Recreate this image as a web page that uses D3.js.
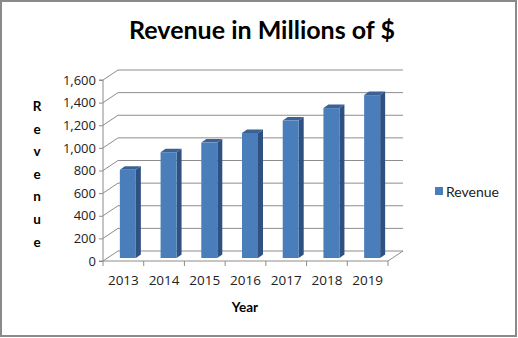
<!DOCTYPE html>
<html>
<head>
<meta charset="utf-8">
<script src="https://cdn.jsdelivr.net/npm/d3@7"></script>
<style>
  body { margin: 0; background: #fff; }
  svg { display: block; }
</style>
</head>
<body>
<script>
'use strict';

const years = ["2013", "2014", "2015", "2016", "2017", "2018", "2019"];
const revenue = [780, 935, 1020, 1105, 1215, 1325, 1440];
const yTicks = [0, 200, 400, 600, 800, 1000, 1200, 1400, 1600];
const seriesName = "Revenue";

const W = 518, H = 338;
const front = { left: 103, right: 388, top: 80, bottom: 261 };
const depth = { dx: 15, dy: -10 };
const barDepth = 0.3;   // where the bars sit between front and back wall

const svg = d3.select("body").append("svg")
    .attr("width", W)
    .attr("height", H)
    .style("font-family", "Lato, 'Open Sans', sans-serif");

// outer border
svg.append("rect")
    .attr("x", 1).attr("y", 1)
    .attr("width", W - 3).attr("height", H - 3)
    .attr("fill", "#fff")
    .attr("stroke", "#8a8a8a")
    .attr("stroke-width", 2);

const x = d3.scaleBand()
    .domain(years)
    .range([front.left, front.right]);

const y = d3.scaleLinear()
    .domain([0, 1600])
    .range([front.bottom, front.top]);

const grid = "#8c8c8c";

// back wall gridlines + left wall diagonals
yTicks.forEach(function(t) {
    const yy = y(t);
    svg.append("line")
        .attr("x1", front.left + depth.dx).attr("y1", yy + depth.dy)
        .attr("x2", front.right + depth.dx).attr("y2", yy + depth.dy)
        .attr("stroke", grid);
    svg.append("line")
        .attr("x1", front.left).attr("y1", yy)
        .attr("x2", front.left + depth.dx).attr("y2", yy + depth.dy)
        .attr("stroke", grid);
});

// floor
svg.append("path")
    .attr("d", "M" + front.left + "," + y(0) +
               "L" + front.right + "," + y(0) +
               "L" + (front.right + depth.dx) + "," + (y(0) + depth.dy))
    .attr("fill", "none")
    .attr("stroke", grid);

// y axis on the front plane
const yAxis = d3.axisLeft(y)
    .tickValues(yTicks)
    .tickSize(4)
    .tickPadding(3)
    .tickFormat(d3.format(","));

const gy = svg.append("g")
    .attr("transform", "translate(" + front.left + ",0)")
    .call(yAxis);
gy.select(".domain").attr("stroke", grid).attr("d", "M-4," + y(1600) + "H0V" + y(0) + "H-4");
gy.selectAll(".tick line").attr("stroke", grid);
gy.selectAll(".tick text")
    .attr("fill", "#222")
    .style("font-family", "'Open Sans', sans-serif")
    .style("font-size", "13px");

// x axis
const xAxis = d3.axisBottom(x)
    .tickSize(0)
    .tickPadding(14);

const gx = svg.append("g")
    .attr("transform", "translate(0," + y(0) + ")")
    .call(xAxis);
gx.select(".domain").remove();
gx.selectAll(".tick text")
    .attr("fill", "#222")
    .style("font-family", "'Open Sans', sans-serif")
    .style("font-size", "13.5px");

// category separator ticks
svg.append("g")
    .selectAll("line")
    .data(d3.range(years.length + 1))
    .enter()
    .append("line")
    .attr("x1", function(i) { return front.left + i * x.step(); })
    .attr("x2", function(i) { return front.left + i * x.step(); })
    .attr("y1", y(0))
    .attr("y2", y(0) + 5)
    .attr("stroke", grid);

// 3D bars
const barW = 16, sideW = 5, topH = 3.5;
const offX = depth.dx * barDepth, offY = depth.dy * barDepth;

const bars = svg.append("g")
    .selectAll("g")
    .data(revenue)
    .enter()
    .append("g");

function bx(d, i) { return x(years[i]) + x.bandwidth() / 2 - barW / 2 + offX; }

bars.append("path")   // side
    .attr("d", function(d, i) {
        const x0 = bx(d, i) + barW, yt = y(d) + offY, yb = y(0) + offY;
        return "M" + x0 + "," + yt + "L" + (x0 + sideW) + "," + (yt - topH) +
               "L" + (x0 + sideW) + "," + (yb - topH) + "L" + x0 + "," + yb + "Z";
    })
    .attr("fill", "#2f5181");

bars.append("path")   // top
    .attr("d", function(d, i) {
        const x0 = bx(d, i), yt = y(d) + offY;
        return "M" + x0 + "," + yt + "L" + (x0 + sideW) + "," + (yt - topH) +
               "L" + (x0 + barW + sideW) + "," + (yt - topH) + "L" + (x0 + barW) + "," + yt + "Z";
    })
    .attr("fill", "#3b6297");

bars.append("rect")   // front
    .attr("x", bx)
    .attr("y", function(d) { return y(d) + offY; })
    .attr("width", barW)
    .attr("height", function(d) { return y(0) - y(d); })
    .attr("fill", "#4a7ebb");

// title
svg.append("text")
    .attr("x", 262)
    .attr("y", 39)
    .attr("text-anchor", "middle")
    .attr("font-weight", "bold")
    .attr("font-size", 25)
    .attr("fill", "#000")
    .text("Revenue in Millions of $");

// x axis title
svg.append("text")
    .attr("x", 245)
    .attr("y", 312)
    .attr("text-anchor", "middle")
    .attr("font-weight", "bold")
    .attr("font-size", 13.5)
    .text("Year");

// y axis title, stacked letters
svg.append("g")
    .selectAll("text")
    .data(seriesName.split(""))
    .enter()
    .append("text")
    .attr("x", 37)
    .attr("y", function(d, i) { return 111 + i * 22.6; })
    .attr("text-anchor", "middle")
    .attr("font-weight", "bold")
    .attr("font-size", 13.5)
    .text(function(d) { return d; });

// legend
svg.append("rect")
    .attr("x", 435).attr("y", 187)
    .attr("width", 8).attr("height", 8)
    .attr("fill", "#4a7ebb");
svg.append("text")
    .attr("x", 446).attr("y", 196.5)
    .attr("font-size", 14)
    .attr("fill", "#222")
    .text(seriesName);
</script>
</body>
</html>
